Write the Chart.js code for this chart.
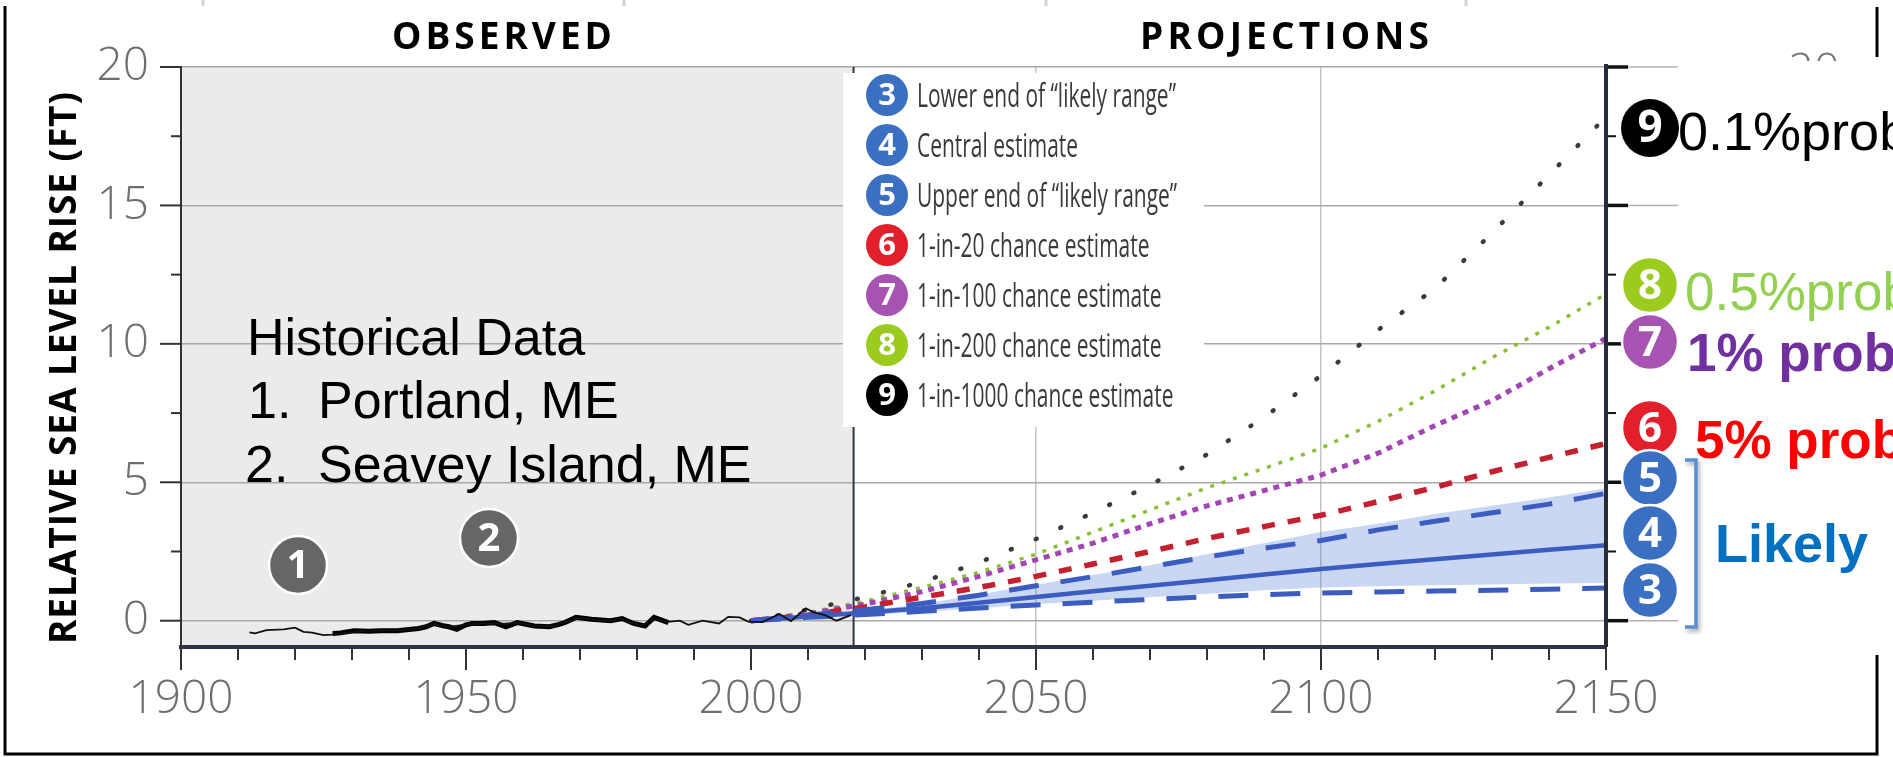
<!DOCTYPE html>
<html>
<head>
<meta charset="utf-8">
<script src="https://cdn.jsdelivr.net/npm/chart.js@4.4.1/dist/chart.umd.min.js"></script>
<style>
  html, body { margin: 0; padding: 0; background: #fff; overflow: hidden; }
  canvas { display: block; }
</style>
</head>
<body>
<canvas id="slrChart" width="1893" height="757"></canvas>
<script>
// axis ticks
const xTicks = [1900, 1950, 2000, 2050, 2100, 2150];
const yTicks = [0, 5, 10, 15, 20];
const observedEnd = 2018;

// historical tide gauges (ft)
const portlandYears = [1912, 1913, 1915, 1918, 1920, 1921.5, 1923, 1925, 1926.5, 1929, 1932, 1935, 1938, 1941, 1944, 1947, 1950, 1953, 1956, 1959, 1962, 1965, 1968, 1970, 1972, 1975, 1977, 1979, 1981, 1983, 1985, 1987.5, 1989, 1991.5, 1994.4, 1996, 1998, 1999.5, 2002, 2005, 2007, 2009.6, 2011, 2013, 2015, 2017.5];
const portlandValues = [-0.42, -0.46, -0.34, -0.31, -0.25, -0.40, -0.43, -0.52, -0.5, -0.44, -0.37, -0.36, -0.35, -0.3, -0.12, -0.22, -0.14, -0.1, -0.12, -0.08, -0.18, -0.2, -0.02, 0.1, 0.04, 0.0, 0.07, -0.08, -0.17, 0.1, -0.05, 0.0, -0.15, 0.0, -0.1, 0.14, 0.12, -0.03, -0.05, 0.24, -0.02, 0.45, 0.3, 0.2, 0.0, 0.2];
const seaveyYears = [1926.6, 1928, 1930.3, 1933, 1935, 1938, 1940, 1941.7, 1943, 1944.4, 1946, 1947, 1948.4, 1950, 1951, 1953, 1955, 1957, 1959, 1962, 1964.6, 1966, 1967.3, 1969.3, 1972, 1975.4, 1977.4, 1979.4, 1981.4, 1983, 1985.5];
const seaveyValues = [-0.46, -0.44, -0.36, -0.38, -0.36, -0.36, -0.32, -0.28, -0.22, -0.10, -0.18, -0.22, -0.31, -0.15, -0.10, -0.10, -0.07, -0.22, -0.07, -0.19, -0.22, -0.15, -0.07, 0.12, 0.05, 0.0, 0.08, -0.10, -0.19, 0.12, -0.07];

// projections (ft)
const projYears = [2000, 2010, 2020, 2030, 2040, 2050, 2060, 2070, 2080, 2090, 2100, 2110, 2120, 2130, 2140, 2150];
const lowerEnd = [0, 0.12, 0.22, 0.34, 0.46, 0.57, 0.67, 0.77, 0.86, 0.94, 1.0, 1.04, 1.07, 1.1, 1.14, 1.18];
const central = [0, 0.15, 0.3, 0.45, 0.65, 0.86, 1.06, 1.26, 1.46, 1.67, 1.87, 2.05, 2.22, 2.39, 2.56, 2.73];
const upperEnd = [0, 0.2, 0.4, 0.62, 0.92, 1.26, 1.59, 1.95, 2.3, 2.62, 2.9, 3.28, 3.59, 3.9, 4.21, 4.6];
const chance20 = [0, 0.2, 0.5, 0.85, 1.2, 1.6, 2.05, 2.5, 2.97, 3.4, 3.81, 4.3, 4.82, 5.38, 5.9, 6.4];
const chance100 = [0, 0.25, 0.6, 1.05, 1.6, 2.2, 2.8, 3.5, 4.15, 4.7, 5.26, 6.05, 7.05, 7.95, 9.1, 10.2];
const chance200 = [0, 0.3, 0.7, 1.2, 1.75, 2.4, 3.2, 4.0, 4.8, 5.5, 6.23, 7.2, 8.3, 9.5, 10.6, 11.8];
const chance1000 = [0, 0.4, 0.85, 1.4, 2.1, 2.95, 3.9, 4.9, 6.0, 7.35, 8.85, 10.5, 12.0, 14.0, 16.1, 18.2];
const bandLow = [0, 0.1, 0.2, 0.32, 0.45, 0.6, 0.72, 0.85, 0.97, 1.1, 1.2, 1.24, 1.28, 1.31, 1.34, 1.36];
const bandHigh = [0, 0.15, 0.35, 0.6, 0.95, 1.3, 1.65, 2.0, 2.4, 2.8, 3.2, 3.5, 3.85, 4.15, 4.45, 4.78];

// legend
const legendNumbers = ['3', '4', '5', '6', '7', '8', '9'];
const legendLabels = [
  'Lower end of \u201clikely range\u201d',
  'Central estimate',
  'Upper end of \u201clikely range\u201d',
  '1-in-20 chance estimate',
  '1-in-100 chance estimate',
  '1-in-200 chance estimate',
  '1-in-1000 chance estimate'
];
const legendColors = ['#3a6fc2', '#3a6fc2', '#3a6fc2', '#e2202b', '#a653b1', '#9bcb1f', '#000000'];

const pairs = (xs, ys) => xs.map((x, i) => ({ x: x, y: ys[i] }));

function line(ctx, x1, y1, x2, y2) {
  ctx.beginPath();
  ctx.moveTo(x1, y1);
  ctx.lineTo(x2, y2);
  ctx.stroke();
}

function badge(ctx, cx, cy, r, fill, label, size, ring) {
  ctx.beginPath();
  ctx.arc(cx, cy, r, 0, Math.PI * 2);
  ctx.fillStyle = fill;
  ctx.fill();
  if (ring) {
    ctx.lineWidth = ring;
    ctx.strokeStyle = '#fff';
    ctx.stroke();
  }
  ctx.fillStyle = '#fff';
  ctx.font = 'bold ' + size + 'px "Open Sans"';
  ctx.textAlign = 'center';
  ctx.textBaseline = 'middle';
  ctx.fillText(label, cx, cy + size * 0.04);
}

// letter-spaced text stretched to a given width
function spaced(ctx, text, x, y, width) {
  const chars = [...text];
  const natural = chars.reduce((s, c) => s + ctx.measureText(c).width, 0);
  const gap = (width - natural) / (chars.length - 1);
  let cx = x;
  chars.forEach(c => {
    ctx.fillText(c, cx, y);
    cx += ctx.measureText(c).width + gap;
  });
}

const decor = {
  id: 'decor',
  beforeDraw(chart) {
    const { ctx, chartArea: a, scales: { x } } = chart;
    ctx.save();
    ctx.fillStyle = '#ebebea';
    ctx.fillRect(a.left, a.top, x.getPixelForValue(observedEnd) - a.left, a.bottom - a.top);
    ctx.restore();
  },
  beforeDatasetsDraw(chart) {
    const { ctx, chartArea: a, scales: { x } } = chart;
    ctx.save();
    const xd = x.getPixelForValue(observedEnd);
    ctx.strokeStyle = '#2b3448';
    ctx.lineWidth = 2;
    line(ctx, xd, a.top, xd, a.bottom);
    ctx.restore();
  },
  afterDraw(chart) {
    const { ctx, chartArea: a, scales: { x, y } } = chart;
    ctx.save();

    // left and bottom tick marks
    ctx.strokeStyle = '#333';
    ctx.lineWidth = 2;
    for (let v = 0; v <= 20; v += 2.5) {
      const py = y.getPixelForValue(v);
      line(ctx, a.left - (v % 5 === 0 ? 21 : 10), py, a.left, py);
    }
    for (let yr = 1900; yr <= 2150; yr += 10) {
      const px = x.getPixelForValue(yr);
      line(ctx, px, a.bottom, px, a.bottom + (yr % 50 === 0 ? 23 : 13));
    }

    // right axis
    for (let v = 0; v <= 20; v += 2.5) {
      const py = y.getPixelForValue(v);
      if (v % 5 === 0) {
        ctx.strokeStyle = '#b0b0b0';
        ctx.lineWidth = 1.5;
        line(ctx, a.right, py, a.right + 72, py);
        ctx.strokeStyle = '#111';
        ctx.lineWidth = 3.5;
        line(ctx, a.right, py, a.right + 22, py);
      } else {
        ctx.strokeStyle = '#111';
        ctx.lineWidth = 2;
        line(ctx, a.right, py, a.right + 10, py);
      }
    }
    ctx.strokeStyle = '#262c38';
    ctx.lineWidth = 4;
    line(ctx, a.right, a.top - 3, a.right, a.bottom);

    // legend box
    ctx.fillStyle = '#fff';
    ctx.fillRect(843, 73, 361, 354);
    legendLabels.forEach((t, i) => {
      const cy = 95 + i * 50;
      badge(ctx, 887, cy, 21, legendColors[i], legendNumbers[i], 31, 0);
      ctx.font = '33px "Open Sans"';
      ctx.fillStyle = '#3a3a3a';
      ctx.textAlign = 'left';
      ctx.textBaseline = 'alphabetic';
      ctx.fillText(t, 917, cy + 12, ctx.measureText(t).width * 0.635);
    });

    // headers
    ctx.fillStyle = '#000';
    ctx.font = 'bold 37px "Open Sans"';
    ctx.textAlign = 'left';
    ctx.textBaseline = 'alphabetic';
    spaced(ctx, 'OBSERVED', 392, 49, 220);
    spaced(ctx, 'PROJECTIONS', 1140, 49, 289);

    // y axis title
    ctx.save();
    ctx.translate(76, 644);
    ctx.rotate(-Math.PI / 2);
    ctx.font = 'bold 37px "Open Sans"';
    spaced(ctx, 'RELATIVE SEA LEVEL RISE (FT)', 0, 0, 552);
    ctx.restore();

    // historical data note
    ctx.fillStyle = '#000';
    ctx.font = '52px "Liberation Sans"';
    ctx.fillText('Historical Data', 247, 355);
    ctx.fillText('1.', 248, 418);
    ctx.fillText('Portland, ME', 318, 418);
    ctx.fillText('2.', 245, 482);
    ctx.fillText('Seavey Island, ME', 318, 482);
    badge(ctx, 298, 565, 29, '#666666', '1', 40, 2.5);
    badge(ctx, 489, 538, 29, '#666666', '2', 40, 2.5);

    // right-hand annotations
    badge(ctx, 1650, 128, 29, '#000000', '9', 44, 0);
    badge(ctx, 1650, 285, 28, '#9bcb1f', '8', 42, 2.5);
    badge(ctx, 1650, 342, 28, '#a653b1', '7', 42, 2.5);
    badge(ctx, 1650, 428, 28, '#e2202b', '6', 42, 2.5);
    badge(ctx, 1650, 478, 28, '#3a6fc2', '5', 42, 2.5);
    badge(ctx, 1650, 533, 28, '#3a6fc2', '4', 42, 2.5);
    badge(ctx, 1650, 590, 28, '#3a6fc2', '3', 42, 2.5);

    ctx.textAlign = 'left';
    ctx.textBaseline = 'alphabetic';
    ctx.font = '54px "Liberation Sans"';
    ctx.fillStyle = '#000';
    ctx.fillText('0.1%prob', 1678, 150);
    ctx.font = '53px "Liberation Sans"';
    ctx.fillStyle = '#92d050';
    ctx.fillText('0.5%prob', 1685, 310);
    ctx.font = 'bold 53px "Liberation Sans"';
    ctx.fillStyle = '#7030a0';
    ctx.fillText('1% prob', 1687, 371);
    ctx.fillStyle = '#ff0000';
    ctx.fillText('5% prob', 1695, 458);
    ctx.font = 'bold 54px "Liberation Sans"';
    ctx.fillStyle = '#0070c0';
    ctx.fillText('Likely', 1715, 562);

    // bracket
    ctx.save();
    ctx.shadowColor = 'rgba(0,0,0,0.35)';
    ctx.shadowBlur = 4;
    ctx.shadowOffsetX = 2;
    ctx.shadowOffsetY = 3;
    ctx.strokeStyle = '#5b8fd1';
    ctx.lineWidth = 3.5;
    ctx.beginPath();
    ctx.moveTo(1685, 460);
    ctx.lineTo(1696, 460);
    ctx.lineTo(1696, 627);
    ctx.lineTo(1685, 627);
    ctx.stroke();
    ctx.restore();

    // ghost tick label at top right
    ctx.save();
    ctx.beginPath();
    ctx.rect(1780, 45, 80, 16);
    ctx.clip();
    ctx.fillStyle = '#777';
    ctx.font = '300 45px "Open Sans"';
    ctx.textAlign = 'center';
    ctx.fillText('20', 1814, 85);
    ctx.restore();

    // frame
    ctx.strokeStyle = '#d0d0d0';
    ctx.lineWidth = 3;
    [203, 624, 1046, 1466].forEach(px => line(ctx, px, 0, px, 6));
    ctx.strokeStyle = '#000';
    ctx.lineWidth = 3;
    ctx.beginPath();
    ctx.moveTo(5, 6);
    ctx.lineTo(5, 754);
    ctx.lineTo(1877, 754);
    ctx.lineTo(1877, 655);
    ctx.stroke();
    line(ctx, 1877, 7, 1877, 57);

    ctx.restore();
  }
};

const tickFont = { family: 'Open Sans', size: 46, weight: '300' };

new Chart(document.getElementById('slrChart'), {
  type: 'line',
  data: {
    datasets: [
      { label: 'Portland, ME', data: pairs(portlandYears, portlandValues), borderColor: '#111', borderWidth: 1.8 },
      { label: 'Seavey Island, ME', data: pairs(seaveyYears, seaveyValues), borderColor: '#000', borderWidth: 5 },
      { label: 'Lower end', data: pairs(projYears, lowerEnd), borderColor: '#3c5cbf', borderWidth: 5, borderDash: [30, 22] },
      { label: 'Central', data: pairs(projYears, central), borderColor: '#3c5cbf', borderWidth: 4.5 },
      { label: 'Upper end', data: pairs(projYears, upperEnd), borderColor: '#3c5cbf', borderWidth: 5, borderDash: [30, 22] },
      { label: '1-in-20', data: pairs(projYears, chance20), borderColor: '#c52030', borderWidth: 5.5, borderDash: [13, 13] },
      { label: '1-in-100', data: pairs(projYears, chance100), borderColor: '#a345b5', borderWidth: 5, borderDash: [6, 6] },
      { label: '1-in-200', data: pairs(projYears, chance200), borderColor: '#88c034', borderWidth: 3.5, borderDash: [4, 8] },
      { label: '1-in-1000', data: pairs(projYears, chance1000), borderColor: '#3a3a3a', borderWidth: 4.5, borderDash: [1, 26], borderCapStyle: 'round' },
      { label: 'band low', data: pairs(projYears, bandLow), borderWidth: 0, borderColor: 'rgba(0,0,0,0)', fill: false, order: 5 },
      { label: 'band high', data: pairs(projYears, bandHigh), borderWidth: 0, borderColor: 'rgba(0,0,0,0)', fill: '-1', backgroundColor: 'rgba(60,110,210,0.28)', order: 5 }
    ]
  },
  options: {
    responsive: false,
    animation: false,
    devicePixelRatio: 1,
    events: [],
    layout: { padding: { top: 67, right: 287, bottom: 0, left: 0 } },
    elements: { point: { radius: 0 }, line: { tension: 0, fill: false } },
    plugins: { legend: { display: false }, tooltip: { enabled: false } },
    scales: {
      x: {
        type: 'linear',
        min: 1900,
        max: 2150,
        afterBuildTicks: s => { s.ticks = xTicks.map(v => ({ value: v })); },
        afterFit: s => { s.height = 110; },
        ticks: { callback: v => String(v), font: tickFont, color: '#6e6e6e', padding: 25, maxRotation: 0, autoSkip: false },
        grid: {
          drawTicks: false,
          lineWidth: 1.5,
          color: c => (c.tick && (c.tick.value === 2050 || c.tick.value === 2100)) ? '#c4c4c4' : 'rgba(0,0,0,0)'
        },
        border: { color: '#2b3448', width: 4 }
      },
      y: {
        min: -0.95,
        max: 20,
        afterBuildTicks: s => { s.ticks = yTicks.map(v => ({ value: v })); },
        afterFit: s => { s.width = 181; },
        ticks: { font: tickFont, color: '#6e6e6e', padding: 32 },
        grid: { color: '#a9a9a9', lineWidth: 1.5, drawTicks: false },
        border: { color: '#333', width: 2 }
      }
    }
  },
  plugins: [decor]
});
</script>
</body>
</html>
